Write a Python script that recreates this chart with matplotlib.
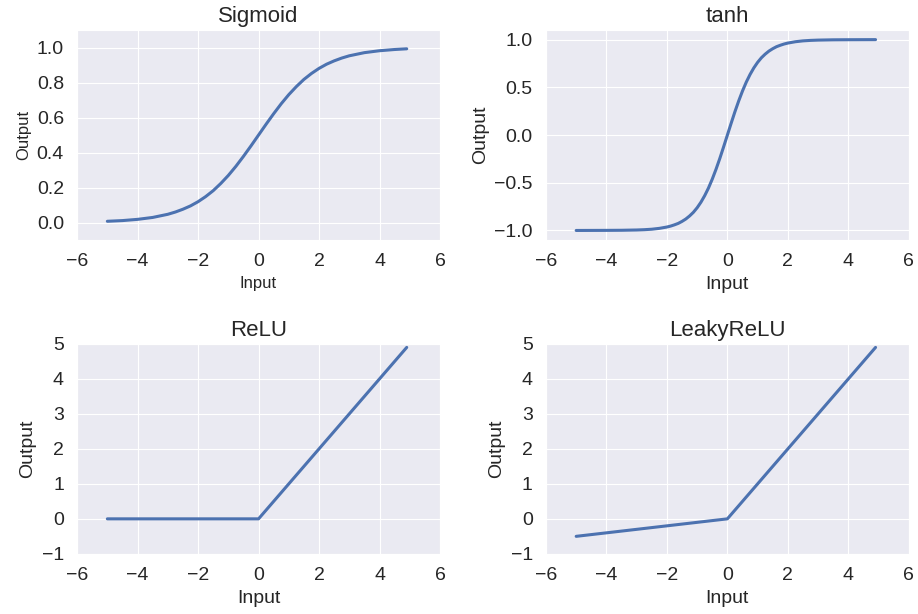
import matplotlib
matplotlib.use("Agg")
import matplotlib.pyplot as plt
import seaborn as sns

# values
sig_x = [-5, -4.5, -4, -3.5, -3, -2.75, -2.5, -2.25, -2, -1.75, -1.5, -1.25, -1,
         -0.75, -0.5, -0.25, 0, 0.25, 0.5, 0.75, 1, 1.25, 1.5, 1.75, 2, 2.25, 2.5,
         2.75, 3, 3.5, 4, 4.5, 4.9]
sig_y = [0.007, 0.011, 0.018, 0.029, 0.047, 0.060, 0.076, 0.095, 0.119, 0.148,
         0.182, 0.223, 0.269, 0.321, 0.378, 0.438, 0.5, 0.562, 0.622, 0.679, 0.731,
         0.777, 0.818, 0.852, 0.881, 0.905, 0.924, 0.940, 0.953, 0.971, 0.982,
         0.989, 0.993]

tanh_x = [-5, -4, -3.5, -3, -2.75, -2.5, -2.25, -2, -1.875, -1.75, -1.625, -1.5,
          -1.375, -1.25, -1.125, -1, -0.875, -0.75, -0.625, -0.5, -0.375, -0.25,
          -0.125, 0, 0.125, 0.25, 0.375, 0.5, 0.625, 0.75, 0.875, 1, 1.125, 1.25,
          1.375, 1.5, 1.625, 1.75, 1.875, 2, 2.25, 2.5, 2.75, 3, 3.5, 4, 4.9]
tanh_y = [-1.0, -0.999, -0.998, -0.995, -0.992, -0.987, -0.978, -0.964, -0.954,
          -0.941, -0.926, -0.905, -0.880, -0.848, -0.810, -0.762, -0.704, -0.635,
          -0.555, -0.462, -0.358, -0.245, -0.124, 0.0, 0.124, 0.245, 0.358, 0.462,
          0.555, 0.635, 0.704, 0.762, 0.810, 0.848, 0.880, 0.905, 0.926, 0.941,
          0.954, 0.964, 0.978, 0.987, 0.992, 0.995, 0.998, 0.999, 1.0]

relu_x = [-5, 0, 4.9]
relu_y = [0, 0, 4.9]

leaky_x = [-5, 0, 4.9]
leaky_y = [-0.5, 0, 4.9]

titles = ["Sigmoid", "tanh", "ReLU", "LeakyReLU"]

sns.set_style("darkgrid")
plt.rcParams['font.family'] = ['Liberation Sans', 'DejaVu Sans']
plt.rcParams['text.color'] = '#262626'
plt.rcParams['axes.labelcolor'] = '#262626'
plt.rcParams['xtick.color'] = '#262626'
plt.rcParams['ytick.color'] = '#262626'

fig, axes = plt.subplots(2, 2, figsize=(9.18, 6.14), dpi=100)
fig.subplots_adjust(left=0.084, right=0.990, top=0.951, bottom=0.098,
                    wspace=0.292, hspace=0.495)

data = [(sig_x, sig_y), (tanh_x, tanh_y), (relu_x, relu_y), (leaky_x, leaky_y)]
ylims = [(-0.1, 1.1), (-1.1, 1.1), (-1, 5), (-1, 5)]
yticks = [[0, 0.2, 0.4, 0.6, 0.8, 1.0], [-1, -0.5, 0, 0.5, 1.0],
          range(-1, 6), range(-1, 6)]

for i, ax in enumerate(axes.flat):
    x, y = data[i]
    ax.plot(x, y, color='#4C72B0', lw=2.2, solid_joinstyle='round')
    ax.set_xlim(-6, 6)
    ax.set_ylim(*ylims[i])
    ax.set_xticks(range(-6, 7, 2))
    ax.set_yticks(list(yticks[i]))
    ax.tick_params(labelsize=14, pad=6)
    ax.set_title(titles[i], fontsize=16)
    lbl = 12 if i == 0 else 14
    ax.set_xlabel("Input", fontsize=lbl)
    ax.set_ylabel("Output", fontsize=lbl)

fig.savefig("out.png", dpi=100)
